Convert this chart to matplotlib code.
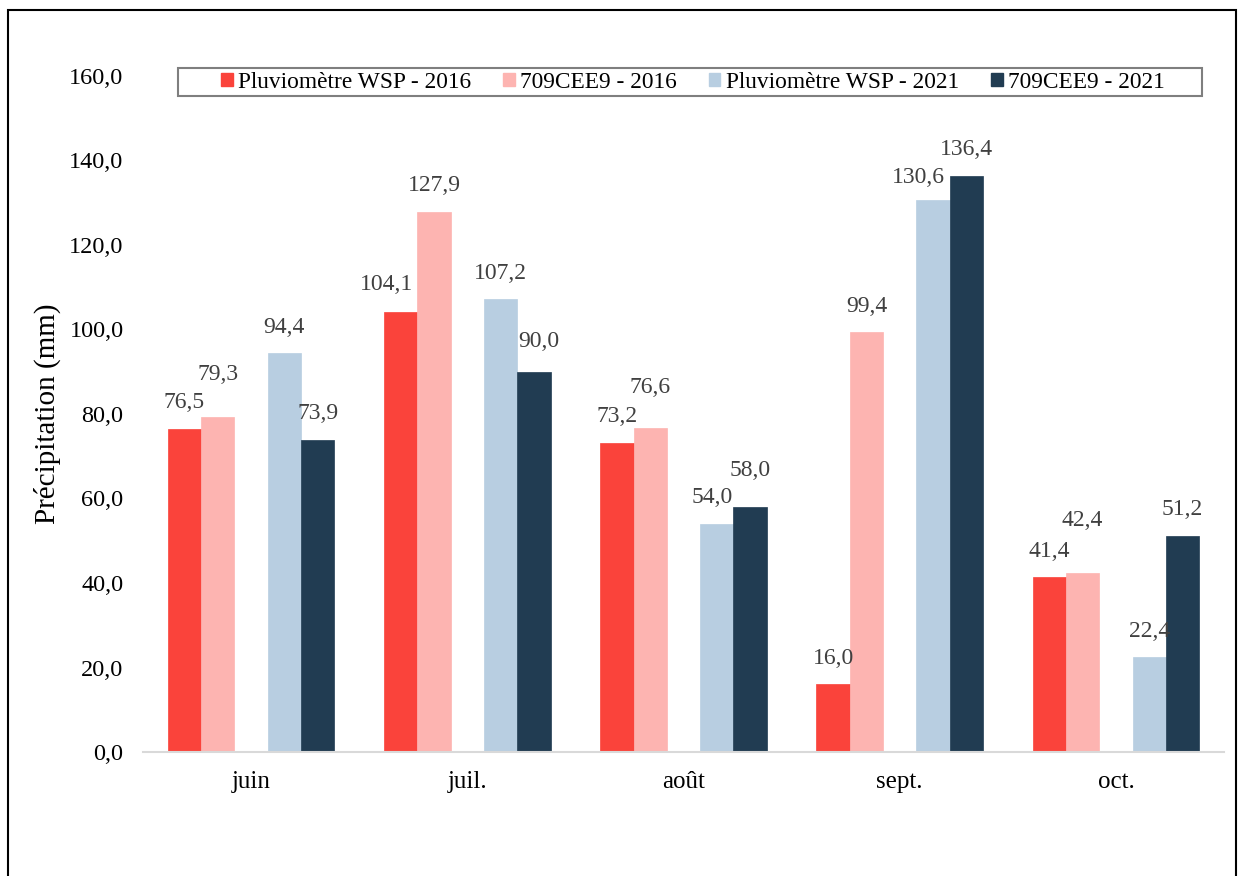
import matplotlib

matplotlib.use("Agg")
import matplotlib.pyplot as plt
import numpy as np
from matplotlib.patches import Patch, Rectangle

months = ["juin", "juil.", "août", "sept.", "oct."]
series_names = [
    "Pluviomètre WSP - 2016",
    "709CEE9 - 2016",
    "Pluviomètre WSP - 2021",
    "709CEE9 - 2021",
]
wsp_2016 = [76.5, 104.1, 73.2, 16.0, 41.4]
cee9_2016 = [79.3, 127.9, 76.6, 99.4, 42.4]
wsp_2021 = [94.4, 107.2, 54.0, 130.6, 22.4]
cee9_2021 = [73.9, 90.0, 58.0, 136.4, 51.2]
yticks = [0, 20, 40, 60, 80, 100, 120, 140, 160]

colors = ["#FA433B", "#FDB4B1", "#B8CEE1", "#213C52"]
slots = [-2, -1, 1, 2]
# extra label shifts (pixels) where the labels were nudged to avoid overlaps
label_shift = {
    (0, 1): (0, 16), (1, 0): (-14, 2), (1, 3): (5, 4), (2, 1): (0, 15),
    (2, 2): (-5, 0), (2, 3): (0, 10), (3, 2): (-15, -3), (4, 1): (0, 26),
}

plt.rcParams["font.family"] = ["Liberation Serif", "DejaVu Serif"]

fig = plt.figure(figsize=(12.44, 8.76), dpi=100)
ax = fig.add_axes([143 / 1244, 1 - 752 / 876, 1081 / 1244, 676 / 876])

x = np.arange(len(months))
w = 0.154
all_series = [wsp_2016, cee9_2016, wsp_2021, cee9_2021]
for si, (vals, col, slot) in enumerate(zip(all_series, colors, slots)):
    bars = ax.bar(x + slot * w, vals, width=w, color=col, edgecolor=col, linewidth=0.5, zorder=2)
    for mi, (b, v) in enumerate(zip(bars, vals)):
        dx, dy = label_shift.get((mi, si), (0, 0))
        ax.annotate(
            f"{v:.1f}".replace(".", ","),
            (b.get_x() + b.get_width() / 2, v),
            xytext=(dx, 26 + dy), textcoords="offset pixels",
            ha="center", va="center", fontsize=17, color="#404040",
        )

ax.set_xlim(-0.5, len(months) - 0.5)
ax.set_ylim(0, 160)
ax.set_xticks(x)
ax.set_xticklabels(months)
ax.set_yticks(yticks)
ax.set_yticklabels([f"{t:.1f}".replace(".", ",") for t in yticks])
ax.tick_params(axis="both", length=0, colors="black")
ax.tick_params(axis="y", pad=14, labelsize=17.5)
ax.tick_params(axis="x", pad=14, labelsize=18)
for s in ["top", "right", "left"]:
    ax.spines[s].set_visible(False)
ax.spines["bottom"].set_color("#D9D9D9")
ax.spines["bottom"].set_linewidth(1.5)
ax.set_ylabel("Précipitation (mm)", fontsize=21)
ax.yaxis.set_label_coords(-0.0758, 0.5)

handles = [Patch(facecolor=c, edgecolor=c) for c in colors]
fig.legend(
    handles, series_names, loc="center", bbox_to_anchor=(693 / 1244, 1 - 82 / 876),
    ncol=4, frameon=False, fontsize=16.8, handlelength=0.5, handleheight=0.5,
    handletextpad=0.25, columnspacing=1.35, borderpad=0.1,
)
fig.patches.append(Rectangle(
    (178 / 1244, 1 - 96 / 876), 1024 / 1244, 28 / 876, transform=fig.transFigure,
    fill=False, edgecolor="#7F7F7F", linewidth=1.5,
))
fig.patches.append(Rectangle(
    (8 / 1244, -0.1), 1228 / 1244, 1.1 - 10 / 876, transform=fig.transFigure,
    fill=False, edgecolor="black", linewidth=1.5, clip_on=False,
))

fig.savefig("out.png", dpi=100)
plt.close(fig)
